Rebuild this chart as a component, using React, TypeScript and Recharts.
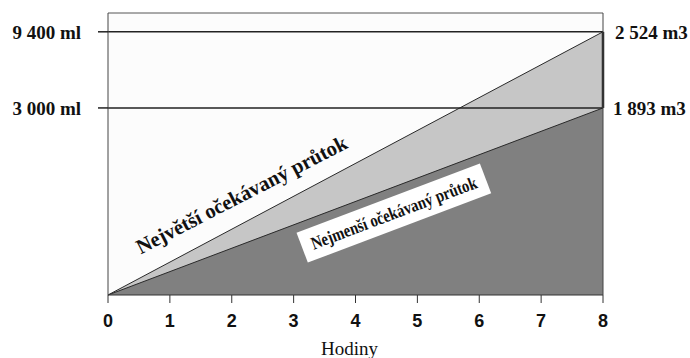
import {
  Area,
  AreaChart,
  CartesianGrid,
  Label,
  ReferenceDot,
  ReferenceLine,
  XAxis,
  YAxis,
} from "recharts"

// hodiny od zacatku deste (jen krajni body, obe plochy jsou primky)
const hours = [0, 8]
const largestFlow = [0, 5.6]
const smallestFlow = [0, 3.98]

const hourTicks = [0, 1, 2, 3, 4, 5, 6, 7, 8]
const rightTicks = [0, 1, 2, 3, 4, 5, 6]
const yTop = 6

const leftLabels = ["9 400 ml", "3 000 ml"]
const rightLabels = ["2 524 m3", "1 893 m3"]
const areaLabels = ["Největší očekávaný průtok", "Nejmenší očekávaný průtok"]
const axisTitle = "Hodiny"

const data = hours.map((h, i) => ({
  hour: h,
  largest: largestFlow[i],
  smallest: smallestFlow[i],
}))

const lastHour = hours[hours.length - 1]
const maxEnd = largestFlow[largestFlow.length - 1]
const minEnd = smallestFlow[smallestFlow.length - 1]

const serif = "'Liberation Serif', 'Times New Roman', serif"
const sans = "'Liberation Sans', Arial, sans-serif"

const TiltedCaption = (props: any) => {
  const { viewBox, caption, tilt, size, span, boxed } = props
  const vb = viewBox || { x: props.x || 0, y: props.y || 0, width: 0, height: 0 }
  const cx = vb.x + (vb.width || 0) / 2
  const cy = vb.y + (vb.height || 0) / 2
  return (
    <g transform={`rotate(${tilt} ${cx} ${cy})`}>
      {boxed && (
        <rect x={cx - 98} y={cy - 16} width={196} height={32} fill="#ffffff" />
      )}
      <text
        x={cx}
        y={boxed ? cy + 6 : cy}
        textAnchor="middle"
        fill="#111"
        fontFamily={serif}
        fontWeight="bold"
        fontSize={size}
        textLength={span}
        lengthAdjust="spacingAndGlyphs"
      >
        {caption}
      </text>
    </g>
  )
}

export default function App() {
  return (
    <div
      style={{
        position: "absolute",
        left: 0,
        top: 0,
        width: 690,
        height: 358,
        background: "#ffffff",
      }}
    >
      <AreaChart
        width={690}
        height={358}
        data={data}
        margin={{ top: 13, right: 0, left: 0, bottom: 0 }}
      >
        <CartesianGrid horizontal={false} vertical={false} fill="#fcfcfc" />
        <XAxis
          dataKey="hour"
          type="number"
          domain={[0, lastHour]}
          ticks={hourTicks}
          interval={0}
          height={63}
          tickSize={8}
          tickMargin={11}
          axisLine={{ stroke: "#333" }}
          tickLine={{ stroke: "#333" }}
          tick={{ fill: "#111", fontSize: 18, fontWeight: "bold", fontFamily: sans }}
        >
          <Label
            value={axisTitle}
            position="insideBottom"
            offset={3}
            dx={-6}
            fill="#111"
            fontSize={19}
            fontFamily={serif}
          />
        </XAxis>
        <YAxis
          type="number"
          domain={[0, yTop]}
          ticks={[maxEnd, minEnd]}
          interval={0}
          width={108}
          tickSize={10}
          tickMargin={17}
          tickFormatter={v => (v === maxEnd ? leftLabels[0] : leftLabels[1])}
          axisLine={{ stroke: "#444" }}
          tickLine={{ stroke: "#222", strokeWidth: 1.5 }}
          tick={{ fill: "#111", fontSize: 19, fontWeight: "bold", fontFamily: serif }}
        />
        <YAxis
          yAxisId="right"
          orientation="right"
          type="number"
          domain={[0, yTop]}
          ticks={rightTicks}
          interval={0}
          width={87}
          tickSize={8}
          tick={false}
          axisLine={{ stroke: "#444" }}
          tickLine={{ stroke: "#444" }}
        />
        <Area
          dataKey="largest"
          type="linear"
          fill="#c6c6c6"
          fillOpacity={1}
          stroke="#2a2a2a"
          strokeWidth={1}
          dot={false}
          activeDot={false}
          isAnimationActive={false}
        />
        <Area
          dataKey="smallest"
          type="linear"
          fill="#808080"
          fillOpacity={1}
          stroke="#2a2a2a"
          strokeWidth={1}
          dot={false}
          activeDot={false}
          isAnimationActive={false}
        />
        <ReferenceLine y={yTop} stroke="#555" strokeWidth={1} />
        <ReferenceLine
          y={maxEnd}
          stroke="#222"
          strokeWidth={1.5}
          label={{
            value: rightLabels[0],
            position: "right",
            offset: 12,
            fill: "#111",
            fontSize: 19,
            fontWeight: "bold",
            fontFamily: serif,
          }}
        />
        <ReferenceLine
          y={minEnd}
          stroke="#222"
          strokeWidth={1.5}
          label={{
            value: rightLabels[1],
            position: "right",
            offset: 10,
            fill: "#111",
            fontSize: 19,
            fontWeight: "bold",
            fontFamily: serif,
          }}
        />
        <ReferenceLine
          segment={[
            { x: lastHour, y: minEnd },
            { x: lastHour, y: maxEnd },
          ]}
          stroke="#222"
          strokeWidth={2.5}
          ifOverflow="visible"
        />
        <ReferenceDot
          x={2.21}
          y={2.0}
          r={0}
          fill="none"
          stroke="none"
          label={<TiltedCaption caption={areaLabels[0]} tilt={-27.2} size={21} span={234} />}
        />
        <ReferenceDot
          x={4.62}
          y={1.745}
          r={0}
          fill="none"
          stroke="none"
          label={
            <TiltedCaption caption={areaLabels[1]} tilt={-20.7} size={18} span={176} boxed />
          }
        />
      </AreaChart>
    </div>
  )
}
